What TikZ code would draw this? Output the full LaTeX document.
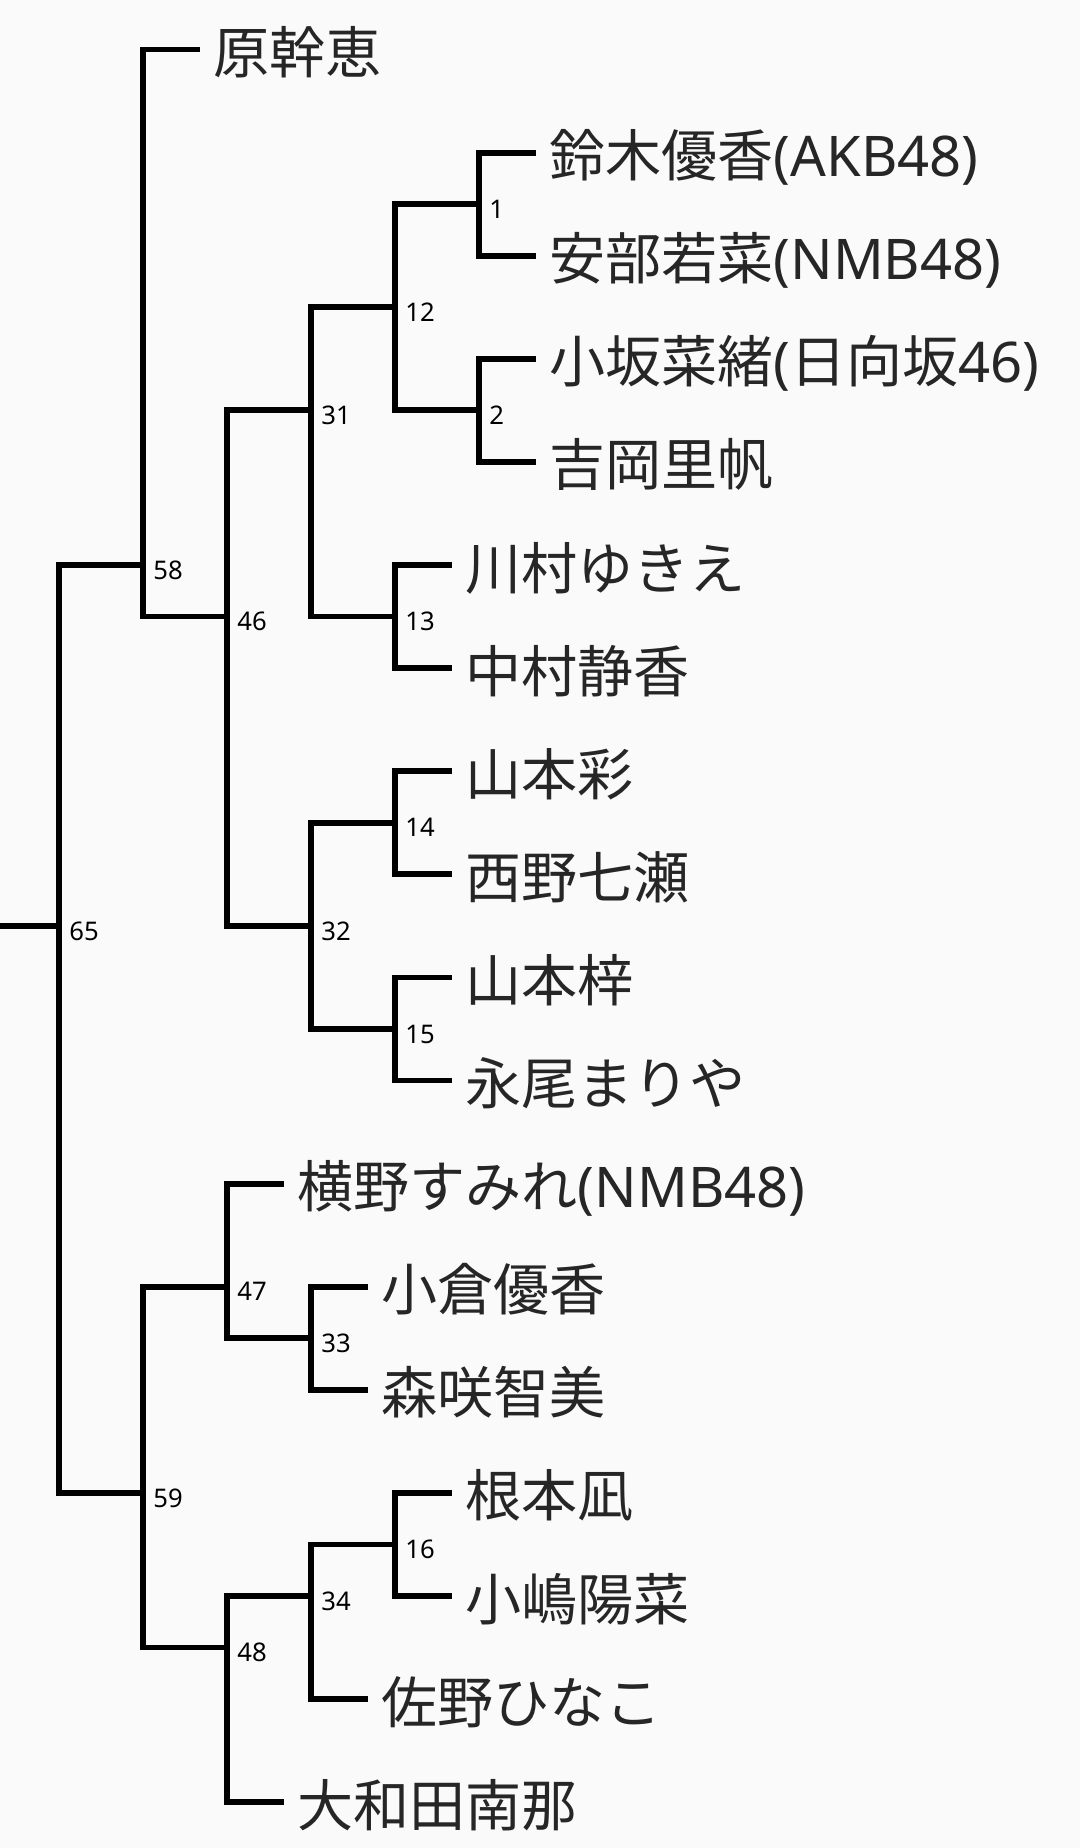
\documentclass[tikz,border=0pt]{standalone}
\usepackage{fontspec}
\setmainfont{Noto Sans}
\newfontfamily\jpfont{Noto Sans CJK JP}
\usetikzlibrary{positioning}
\definecolor{bgpaper}{RGB}{250,250,250}
\definecolor{nametext}{RGB}{38,38,38}
\newcommand{\jp}[1]{{\jpfont #1}}
\tikzset{
  branch/.style={draw=black,line width=3.3pt},
  leafname/.style={anchor=base west,inner sep=0pt,font=\fontsize{31.9}{36}\selectfont,
    text=nametext,xshift=0.26cm,yshift=-0.48cm},
  mergeno/.style={anchor=west,inner sep=0pt,font=\fontsize{14.6}{16}\selectfont,
    text=black,xshift=0.2cm,yshift=-0.1cm}
}
\begin{document}
\begin{tikzpicture}[x=1.68cm,y=-2.062cm]
  \fill[bgpaper] (-0.7024,-0.4801) rectangle (12.155,17.444);
  \useasboundingbox (-0.7024,-0.4801) rectangle (12.155,17.444);

  % merge points (depth, mean leaf row)
  \coordinate (root) at (-0.7024,8.5);
  \coordinate (n65) at (0,8.5);
  \coordinate (n58) at (1,5);
  \coordinate (n59) at (1,14);
  \coordinate (n46) at (2,5.5);
  \coordinate (n47) at (2,12);
  \coordinate (n48) at (2,15.5);
  \coordinate (n31) at (3,3.5);
  \coordinate (n32) at (3,8.5);
  \coordinate (n33) at (3,12.5);
  \coordinate (n34) at (3,15);
  \coordinate (n12) at (4,2.5);
  \coordinate (n13) at (4,5.5);
  \coordinate (n14) at (4,7.5);
  \coordinate (n15) at (4,9.5);
  \coordinate (n16) at (4,14.5);
  \coordinate (n1) at (5,1.5);
  \coordinate (n2) at (5,3.5);

  % leaf ends
  \coordinate (e0) at (1.68,0);
  \coordinate (e1) at (5.68,1);
  \coordinate (e2) at (5.68,2);
  \coordinate (e3) at (5.68,3);
  \coordinate (e4) at (5.68,4);
  \coordinate (e5) at (4.68,5);
  \coordinate (e6) at (4.68,6);
  \coordinate (e7) at (4.68,7);
  \coordinate (e8) at (4.68,8);
  \coordinate (e9) at (4.68,9);
  \coordinate (e10) at (4.68,10);
  \coordinate (e11) at (2.68,11);
  \coordinate (e12) at (3.68,12);
  \coordinate (e13) at (3.68,13);
  \coordinate (e14) at (4.68,14);
  \coordinate (e15) at (4.68,15);
  \coordinate (e16) at (3.68,16);
  \coordinate (e17) at (2.68,17);

  \node[leafname] (l0) at (e0) {\jp{原幹恵}};
  \node[leafname] (l1) at (e1) {\jp{鈴木優香}(AKB48)};
  \node[leafname] (l2) at (e2) {\jp{安部若菜}(NMB48)};
  \node[leafname] (l3) at (e3) {\jp{小坂菜緒}(\jp{日向坂}46)};
  \node[leafname] (l4) at (e4) {\jp{吉岡里帆}};
  \node[leafname] (l5) at (e5) {\jp{川村ゆきえ}};
  \node[leafname] (l6) at (e6) {\jp{中村静香}};
  \node[leafname] (l7) at (e7) {\jp{山本彩}};
  \node[leafname] (l8) at (e8) {\jp{西野七瀬}};
  \node[leafname] (l9) at (e9) {\jp{山本梓}};
  \node[leafname] (l10) at (e10) {\jp{永尾まりや}};
  \node[leafname] (l11) at (e11) {\jp{横野すみれ}(NMB48)};
  \node[leafname] (l12) at (e12) {\jp{小倉優香}};
  \node[leafname] (l13) at (e13) {\jp{森咲智美}};
  \node[leafname] (l14) at (e14) {\jp{根本凪}};
  \node[leafname] (l15) at (e15) {\jp{小嶋陽菜}};
  \node[leafname] (l16) at (e16) {\jp{佐野ひなこ}};
  \node[leafname] (l17) at (e17) {\jp{大和田南那}};

  % branches
  \draw[branch] (root) -- (n65);
  \draw[branch] (n65) |- (n58);
  \draw[branch] (n65) |- (n59);
  \draw[branch] (n58) |- (e0);
  \draw[branch] (n58) |- (n46);
  \draw[branch] (n46) |- (n31);
  \draw[branch] (n46) |- (n32);
  \draw[branch] (n31) |- (n12);
  \draw[branch] (n31) |- (n13);
  \draw[branch] (n12) |- (n1);
  \draw[branch] (n12) |- (n2);
  \draw[branch] (n1) |- (e1);
  \draw[branch] (n1) |- (e2);
  \draw[branch] (n2) |- (e3);
  \draw[branch] (n2) |- (e4);
  \draw[branch] (n13) |- (e5);
  \draw[branch] (n13) |- (e6);
  \draw[branch] (n32) |- (n14);
  \draw[branch] (n32) |- (n15);
  \draw[branch] (n14) |- (e7);
  \draw[branch] (n14) |- (e8);
  \draw[branch] (n15) |- (e9);
  \draw[branch] (n15) |- (e10);
  \draw[branch] (n59) |- (n47);
  \draw[branch] (n59) |- (n48);
  \draw[branch] (n47) |- (e11);
  \draw[branch] (n47) |- (n33);
  \draw[branch] (n33) |- (e12);
  \draw[branch] (n33) |- (e13);
  \draw[branch] (n48) |- (n34);
  \draw[branch] (n48) |- (e17);
  \draw[branch] (n34) |- (n16);
  \draw[branch] (n34) |- (e16);
  \draw[branch] (n16) |- (e14);
  \draw[branch] (n16) |- (e15);

  % merge numbers
  \foreach \k in {65,58,59,46,47,48,31,32,33,34,12,13,14,15,16,1,2}
    \node[mergeno] (t\k) at (n\k) {\k};
\end{tikzpicture}
\end{document}
